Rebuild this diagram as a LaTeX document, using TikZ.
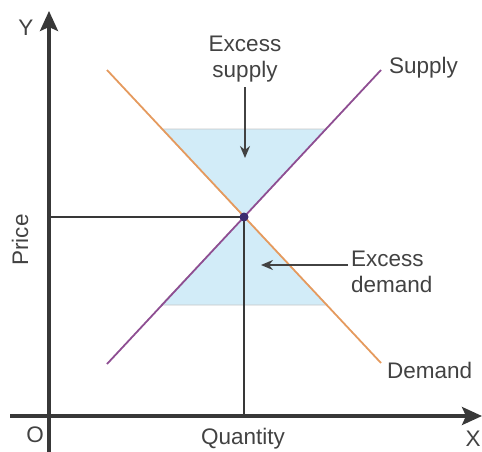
\documentclass[tikz,border=0pt]{standalone}
\usepackage{fontspec}
\setmainfont{Liberation Sans}
\usetikzlibrary{arrows.meta}
\definecolor{inkgray}{HTML}{424242}
\definecolor{axisgray}{HTML}{383838}
\definecolor{demandcol}{HTML}{E59A5E}
\definecolor{supplycol}{HTML}{8E4E92}
\definecolor{shadecol}{HTML}{D2ECF8}
\definecolor{eqcol}{HTML}{3B2C6E}

\begin{document}
\begin{tikzpicture}[x=1pt,y=-1pt,
    every node/.style={font=\fontsize{22.5}{26}\selectfont,text=inkgray,
        inner sep=1pt},
    axis/.style={line width=3.4pt,draw=axisgray,
        -{Stealth[length=20pt,width=18pt,inset=4pt]}},
    guide/.style={line width=2.8pt,draw=axisgray},
    demandline/.style={line width=1.8pt,draw=demandcol},
    supplyline/.style={line width=1.8pt,draw=supplycol},
    gapzone/.style={fill=shadecol,draw=gray!45,line width=0.7pt},
    pointer/.style={line width=1.7pt,draw=inkgray,
        -{Stealth[length=12pt,width=10pt]}}]
    \useasboundingbox (0,0) rectangle (482,452);

    % points of the market
    \coordinate (origin) at (49,416);
    \coordinate (eq) at (244,217);
    \coordinate (d1) at (107,70);
    \coordinate (d2) at (381,363);
    \coordinate (s1) at (107,364);
    \coordinate (s2) at (381,70);

    % excess areas
    \filldraw[gapzone] (162,129) -- (326,129) -- (eq) -- cycle;
    \filldraw[gapzone] (161,305) -- (327,305) -- (eq) -- cycle;

    % axes
    \coordinate (xstart) at (10,416);
    \coordinate (xend) at (482,416);
    \coordinate (ystart) at (49,452);
    \coordinate (yend) at (49,11);
    \draw[axis] (xstart) -- (xend);
    \draw[axis] (ystart) -- (yend);

    % equilibrium guides
    \coordinate (peq) at (49,217);
    \coordinate (qeq) at (244,416);
    \draw[guide] (peq) -- (eq) -- (qeq);

    % curves
    \draw[demandline] (d1) -- (d2);
    \draw[supplyline] (s1) -- (s2);
    \fill[eqcol] (eq) circle (4.5pt);

    % labels
    \node (ylab) at (26,28) {Y};
    \node (olab) at (35,435) {O};
    \node (xlab) at (473,439) {X};
    \node (qlab) at (243,439) {Quantity};
    \node[rotate=90] (plab) at (20,240) {Price};
    \node[anchor=west] (slab) at (388,68) {Supply};
    \node[anchor=west] (dlab) at (386,370) {Demand};
    \node[align=center] (exsup) at (245,59) {Excess\\supply};
    \node[align=left,anchor=north west] (exdem) at (350,250) {Excess\\demand};

    % pointers
    \coordinate (supend) at (245,158);
    \coordinate (demend) at (261,265);
    \draw[pointer] (exsup.south) ++(0,4) -- (supend);
    \draw[pointer] (exdem.west |- demend) ++(-2,0) -- (demend);

\end{tikzpicture}
\end{document}
